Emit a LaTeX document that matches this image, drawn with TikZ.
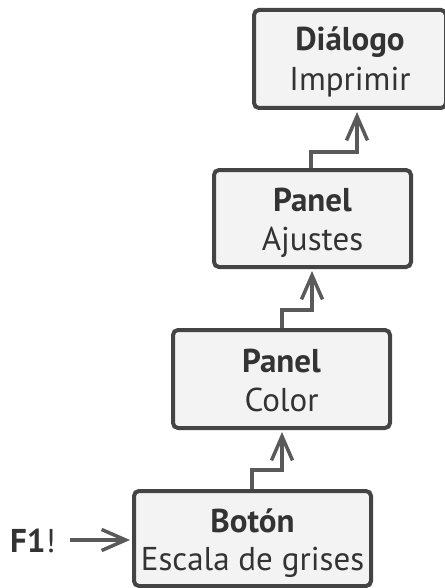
\documentclass[tikz,border=0pt]{standalone}
\usepackage{fontspec}
\setmainfont{PT Sans}
\usetikzlibrary{arrows.meta}
\definecolor{boxfill}{HTML}{F3F3F3}
\definecolor{boxline}{HTML}{444444}
\definecolor{conn}{HTML}{5A5A5A}
\definecolor{txt}{HTML}{333333}
\begin{document}
\begin{tikzpicture}[x=1pt,y=-1pt,
  comp/.style={draw=boxline,line width=4pt,fill=boxfill,rounded corners=5pt,inner sep=0pt},
  ttl/.style={text=txt,font=\bfseries\fontsize{33}{38}\selectfont,anchor=base,inner sep=0pt},
  sub/.style={text=txt,font=\fontsize{33}{38}\selectfont,anchor=base,inner sep=0pt},
  flow/.style={draw=conn,line width=3.5pt,shorten >=2pt,-{Straight Barb[length=24pt,width=21pt,line width=3.5pt]}}]
\useasboundingbox (0,0) rectangle (444,588);
\node[comp,minimum width=192pt,minimum height=98pt] (dlg) at (350,59) {};
\node[comp,minimum width=197pt,minimum height=97pt] (aj) at (312.5,218.5) {};
\node[comp,minimum width=217pt,minimum height=98pt] (col) at (281.5,379) {};
\node[comp,minimum width=237pt,minimum height=95pt] (bot) at (252.5,538.5) {};
\node[ttl] (dlgt) at ([yshift=8pt]dlg.center) {Diálogo};
\node[sub] (dlgs) at ([yshift=-32pt]dlg.center) {Imprimir};
\node[ttl] (ajt) at ([yshift=7pt]aj.center) {Panel};
\node[sub] (ajs) at ([yshift=-32pt]aj.center) {Ajustes};
\node[ttl] (colt) at ([yshift=7pt]col.center) {Panel};
\node[sub] (cols) at ([yshift=-32pt]col.center) {Color};
\node[ttl] (bott) at ([yshift=6.5pt]bot.center) {Botón};
\node[sub] (bots) at ([yshift=-31.5pt]bot.center) {Escala de grises};
\node[text=txt,font=\fontsize{33}{38}\selectfont,anchor=base west,inner sep=0pt] (f1) at (10,552) {\textbf{F1}!};
\coordinate (f1e) at (70,540);
\draw[flow] (f1e) -- (bot.west |- f1e);
\draw[flow] (bot.north -| 252,0) -- (252,470) -- (282,470) -- (col.south -| 282,0);
\draw[flow] (col.north -| 282,0) -- (282,310) -- (312,310) -- (aj.south -| 312,0);
\draw[flow] (aj.north -| 311,0) -- (311,152) -- (357,152) -- (dlg.south -| 357,0);
\end{tikzpicture}
\end{document}
